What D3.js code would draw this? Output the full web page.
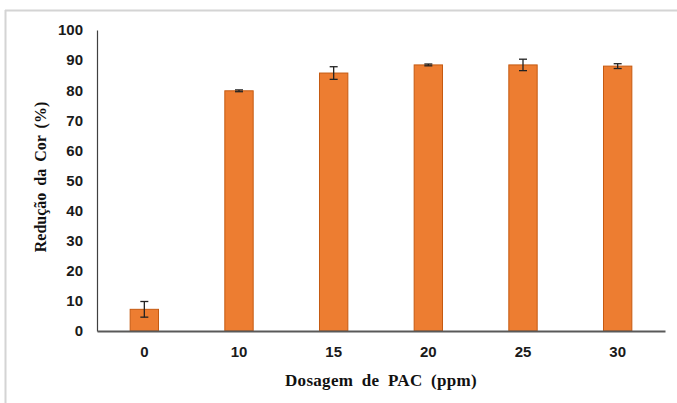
<!DOCTYPE html>
<html>
<head>
<meta charset="utf-8">
<script src="https://cdn.jsdelivr.net/npm/d3@7"></script>
<style>
  html, body { margin: 0; padding: 0; background: #fff; }
  svg { display: block; }
</style>
</head>
<body>
<svg id="chart" width="677" height="403"></svg>
<script>
// PAC dosage (ppm) and mean colour reduction (%) with standard deviation
const dosages = ["0", "10", "15", "20", "25", "30"];
const reduction = [7.2, 79.8, 85.7, 88.4, 88.4, 88.0];
const deviation = [2.6, 0.3, 2.1, 0.3, 1.9, 0.8];
const yTicks = [0, 10, 20, 30, 40, 50, 60, 70, 80, 90, 100];

const svg = d3.select("#chart");
const W = 677, H = 403;

// outer frame (top and left edges visible)
svg.append("line").attr("x1", 5).attr("x2", W).attr("y1", 10.5).attr("y2", 10.5)
  .attr("stroke", "#d4d4d4").attr("stroke-width", 2);
svg.append("line").attr("x1", 5.5).attr("x2", 5.5).attr("y1", 10).attr("y2", H)
  .attr("stroke", "#d4d4d4").attr("stroke-width", 2);

const plotLeft = 97, plotRight = 665, plotTop = 30, plotBottom = 331;

const x = d3.scaleBand().domain(dosages).range([plotLeft, plotRight])
  .paddingInner(0.69).paddingOuter(0.345);
const y = d3.scaleLinear().domain([0, 100]).range([plotBottom, plotTop]);

const data = dosages.map((d, i) => ({ d, v: reduction[i], e: deviation[i] }));

// bars
svg.append("g").selectAll("rect").data(data).join("rect")
  .attr("x", d => x(d.d) + 0.5)
  .attr("y", d => y(d.v))
  .attr("width", x.bandwidth() - 1)
  .attr("height", d => y(0) - y(d.v))
  .attr("fill", "#ED7D31")
  .attr("stroke", "#C55A11")
  .attr("stroke-width", 1);

// error bars
const eb = svg.append("g").attr("stroke", "#222").attr("stroke-width", 1.3);
data.forEach(d => {
  const cx = x(d.d) + x.bandwidth() / 2;
  const y1 = y(d.v + d.e), y2 = y(d.v - d.e);
  eb.append("line").attr("x1", cx).attr("x2", cx).attr("y1", y1).attr("y2", y2);
  eb.append("line").attr("x1", cx - 4).attr("x2", cx + 4).attr("y1", y1).attr("y2", y1);
  eb.append("line").attr("x1", cx - 4).attr("x2", cx + 4).attr("y1", y2).attr("y2", y2);
});

// y axis
const yAxis = svg.append("g").attr("transform", `translate(${plotLeft},0)`)
  .call(d3.axisLeft(y).tickValues(yTicks).tickSize(0).tickPadding(14));
yAxis.select(".domain").attr("stroke", "#404040").attr("stroke-width", 1.2);
yAxis.selectAll("text")
  .attr("font-family", "'Liberation Sans', Arial, sans-serif")
  .attr("font-weight", "bold").attr("font-size", 15).attr("fill", "#1a1a1a");

// x axis
const xAxis = svg.append("g").attr("transform", `translate(0,${plotBottom})`)
  .call(d3.axisBottom(x).tickSize(0).tickPadding(15));
xAxis.select(".domain").attr("stroke", "#595959").attr("stroke-width", 2);
xAxis.selectAll("text")
  .attr("font-family", "'Liberation Sans', Arial, sans-serif")
  .attr("font-weight", "bold").attr("font-size", 15).attr("fill", "#1a1a1a");

// axis titles
svg.append("text")
  .attr("x", 381).attr("y", 386)
  .attr("text-anchor", "middle")
  .attr("font-family", "'Liberation Serif', 'Times New Roman', serif")
  .attr("font-weight", "bold").attr("font-size", 17).attr("fill", "#111")
  .attr("word-spacing", 4).attr("letter-spacing", 0.3)
  .text("Dosagem de PAC (ppm)");

svg.append("text")
  .attr("transform", "translate(46,177) rotate(-90)")
  .attr("text-anchor", "middle")
  .attr("font-family", "'Liberation Serif', 'Times New Roman', serif")
  .attr("font-weight", "bold").attr("font-size", 16).attr("fill", "#111")
  .attr("word-spacing", 3)
  .text("Redução da Cor (%)");
</script>
</body>
</html>
